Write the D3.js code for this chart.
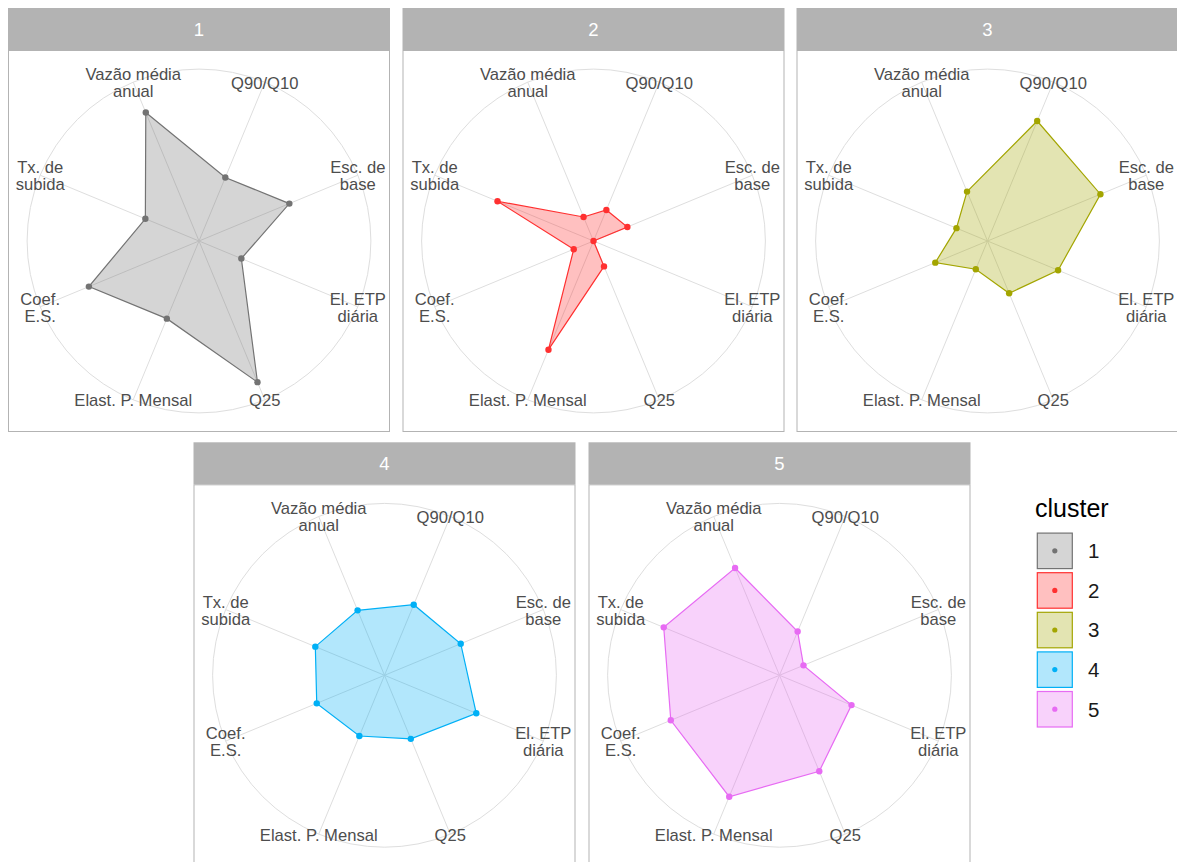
<!DOCTYPE html>
<html><head><meta charset="utf-8">
<script src="https://cdn.jsdelivr.net/npm/d3@7"></script>
<style>
body{margin:0;background:#fff;}
svg{display:block;font-family:"Liberation Sans",Arial,Helvetica,sans-serif;}
</style>
</head><body>
<svg id="chart" width="1177" height="862"></svg>
<script>
// ---------- data ----------
const variables = ["Vazão média\nanual","Q90/Q10","Esc. de\nbase","El. ETP\ndiária","Q25","Elast. P. Mensal","Coef.\nE.S.","Tx. de\nsubida"];
const clusters = ["1","2","3","4","5"];
const cluster1 = [0.91,0.45,0.64,0.30,1.00,0.55,0.78,0.38];
const cluster2 = [0.17,0.22,0.24,0.00,0.18,0.77,0.14,0.68];
const cluster3 = [0.35,0.85,0.80,0.50,0.37,0.20,0.37,0.22];
const cluster4 = [0.46,0.50,0.54,0.65,0.45,0.43,0.48,0.49];
const cluster5 = [0.76,0.31,0.17,0.51,0.68,0.86,0.77,0.82];
const seriesValues = [cluster1,cluster2,cluster3,cluster4,cluster5];

// ---------- style / layout ----------
const palette = ["#737373","#ff3030","#a3a500","#00b0f6","#e76bf3"];
const W = 382, STRIP = 42;
const panelOrigins = [[8,8],[402.5,8],[796.5,8],[193.5,442.3],[588.5,442.3]];

const svg = d3.select("#chart");
const angle = d3.scaleBand().domain(variables).range([-Math.PI/4, 2*Math.PI - Math.PI/4]);
const ang = v => angle(v) + angle.bandwidth()/2;
const maxVal = d3.max(seriesValues.flat());
const radius = d3.scaleLinear().domain([0, maxVal]).range([0, 0.4*W]);
const R = 0.45*W;

clusters.forEach((c, ci) => {
  const [x0, y0] = panelOrigins[ci];
  const g = svg.append("g");
  // strip
  g.append("rect").attr("x", x0).attr("y", y0).attr("width", W).attr("height", STRIP).attr("fill", "#b3b3b3");
  g.append("text").attr("x", x0 + W/2).attr("y", y0 + STRIP/2 + 6.5)
    .attr("text-anchor","middle").attr("font-size", 18.5).attr("fill","#ffffff").text(c);
  const cx = x0 + W/2, cy = y0 + STRIP + W/2;
  const p = g.append("g").attr("transform", `translate(${cx},${cy})`);
  // background grid
  p.append("circle").attr("r", R).attr("fill","none").attr("stroke","#dedede").attr("stroke-width",1);
  variables.forEach(v => {
    const a = ang(v);
    p.append("line").attr("x1",0).attr("y1",0)
      .attr("x2", R*Math.sin(a)).attr("y2", -R*Math.cos(a))
      .attr("stroke","#dedede").attr("stroke-width",1);
  });
  // polygon
  const vals = seriesValues[ci];
  const data = variables.map((v,i)=>({v, val: vals[i]}));
  const line = d3.lineRadial().angle(d=>ang(d.v)).radius(d=>radius(d.val)).curve(d3.curveLinearClosed);
  p.append("path").attr("d", line(data))
    .attr("fill", palette[ci]).attr("fill-opacity", 0.3)
    .attr("stroke", palette[ci]).attr("stroke-width", 1.2);
  p.selectAll("circle.pt").data(data).join("circle").attr("class","pt")
    .attr("cx", d=>radius(d.val)*Math.sin(ang(d.v)))
    .attr("cy", d=>-radius(d.val)*Math.cos(ang(d.v)))
    .attr("r", 3.2).attr("fill", palette[ci]);
  // axis labels
  variables.forEach(v => {
    const a = ang(v);
    const lx = R*Math.sin(a), ly = -R*Math.cos(a);
    const lines = v.split("\n");
    const fs = 16.6, lh = 17;
    const t = p.append("text").attr("text-anchor","middle").attr("font-size", fs).attr("fill","#4d4d4d");
    lines.forEach((s, i) => {
      t.append("tspan").attr("x", lx)
        .attr("y", ly + (i - (lines.length-1)/2)*lh + 0.36*fs + 0.5).text(s);
    });
  });
  // panel border
  g.append("rect").attr("x", x0+0.5).attr("y", y0+STRIP+0.5).attr("width", W-1).attr("height", W-1)
    .attr("fill","none").attr("stroke","#b3b3b3").attr("stroke-width",1);
});

// legend
const lg = svg.append("g");
lg.append("text").attr("x", 1035).attr("y", 516.5).attr("font-size", 25).attr("fill","#000").text("cluster");
clusters.forEach((c, ci) => {
  const ky = 532.5 + ci*39.6;
  lg.append("rect").attr("x", 1037.3).attr("y", ky+0.6).attr("width", 35).attr("height", 35.5)
    .attr("fill", palette[ci]).attr("fill-opacity", 0.3)
    .attr("stroke", palette[ci]).attr("stroke-width", 1.2);
  lg.append("circle").attr("cx", 1054.8).attr("cy", ky + 18.3).attr("r", 2.6).attr("fill", palette[ci]);
  lg.append("text").attr("x", 1088).attr("y", ky + 18.3 + 7.3).attr("font-size", 20.5).attr("fill","#1a1a1a").text(c);
});
</script>
</body></html>
